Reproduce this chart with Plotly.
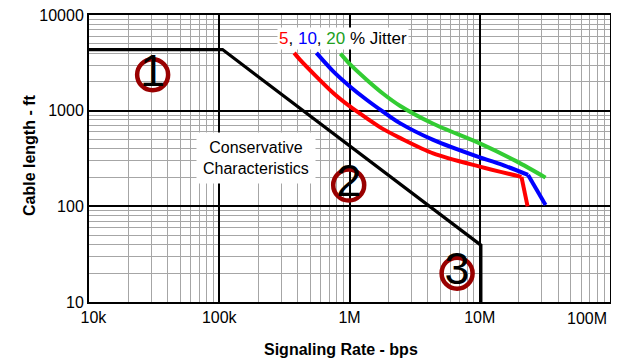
import numpy as np
import plotly.graph_objects as go

# ---- data ----
x_tickvals = [1e4, 1e5, 1e6, 1e7, 1e8]
x_ticktext = ["10k", "100k", "1M", "10M", "100M"]
y_tickvals = [10, 100, 1000, 10000]
y_ticktext = ["10", "100", "1000", "10000"]

cons_x = [1e4, 1.06e5, 1.02e7, 1.02e7]
cons_y = [4350, 4350, 39.3, 10]

red_x = [3.76e5, 4.16e5, 7.5e5, 1.007e6, 1.353e6, 1.814e6, 2.437e6, 4.39e6, 1.0e7, 2.09e7]
red_y = [4018, 3416, 1530, 1107, 836, 641, 520, 358, 260, 203]
red_drop_x = [2.09e7, 2.33e7]
red_drop_y = [203, 100]

blue_x = [5.57e5, 7.5e5, 1.007e6, 1.353e6, 1.814e6, 2.437e6, 4.39e6, 1.0e7, 1.427e7, 2.35e7]
blue_y = [4018, 2576, 1793, 1301, 974, 741, 495, 325, 277.5, 213]
blue_drop_x = [2.35e7, 3.2e7]
blue_drop_y = [213, 103]

green_x = [8.52e5, 1.007e6, 1.353e6, 1.814e6, 2.437e6, 4.39e6, 1.0e7, 1.92e7, 3.2e7]
green_y = [3949, 3064, 2108, 1503, 1126, 729, 455, 295, 199.5]

region_labels = ["1", "2", "3"]
region_x = [3.08e4, 9.86e5, 6.7e6]
region_y = [2378, 167, 20]

FONT = "Liberation Sans, Arial, sans-serif"
RED, BLUE, GREEN = "#ff0000", "#0000ff", "#33cc33"

fig = go.Figure()
fig.add_trace(go.Scatter(x=cons_x, y=cons_y, mode="lines",
                         line=dict(color="black", width=3.2), hoverinfo="skip"))
fig.add_trace(go.Scatter(x=red_x, y=red_y, mode="lines",
                         line=dict(color=RED, width=4, shape="spline", smoothing=0.8)))
fig.add_trace(go.Scatter(x=red_drop_x, y=red_drop_y, mode="lines",
                         line=dict(color=RED, width=4)))
fig.add_trace(go.Scatter(x=blue_x, y=blue_y, mode="lines",
                         line=dict(color=BLUE, width=4, shape="spline", smoothing=0.8)))
fig.add_trace(go.Scatter(x=blue_drop_x, y=blue_drop_y, mode="lines",
                         line=dict(color=BLUE, width=4)))
fig.add_trace(go.Scatter(x=green_x, y=green_y, mode="lines",
                         line=dict(color=GREEN, width=4, shape="spline", smoothing=0.8)))
fig.add_trace(go.Scatter(x=region_x, y=region_y, mode="markers+text",
                         text=region_labels, textposition="middle center",
                         textfont=dict(family=FONT, size=45, color="black"),
                         marker=dict(symbol="circle-open", size=31, color="#990000",
                                     line=dict(width=4.5, color="#990000"))))

minor_x = [m * 10 ** e for e in range(4, 8) for m in range(2, 10)]
minor_y = [m * 10 ** e for e in range(1, 4) for m in range(2, 10)]

# first x label nudged right, last one drawn as an annotation nudged left (as in the reference)
x_ticktext_shown = ["\u00a0\u00a0" + x_ticktext[0]] + x_ticktext[1:-1] + [""]

axis_common = dict(type="log", showline=True, mirror=True, linecolor="black", linewidth=2,
                   showgrid=True, gridcolor="black", gridwidth=1.5, ticks="",
                   zeroline=False, automargin=False, ticklabeloverflow="allow",
                   tickfont=dict(family=FONT, size=16, color="black"))

# the page body adds an 8px offset, so the figure is 8px smaller and margins shifted
fig.update_layout(
    width=611, height=356,
    margin=dict(l=81, r=9, t=7, b=62),
    paper_bgcolor="white", plot_bgcolor="white",
    showlegend=False,
    xaxis=dict(**axis_common, range=[4, 8], tickmode="array",
               tickvals=x_tickvals, ticktext=x_ticktext_shown,
               minor=dict(tickmode="array", tickvals=minor_x, showgrid=True,
                          gridcolor="#a6a6a6", gridwidth=1, ticks="")),
    yaxis=dict(**axis_common, range=[1, 4], tickmode="array",
               tickvals=y_tickvals, ticktext=y_ticktext,
               minor=dict(tickmode="array", tickvals=minor_y, showgrid=True,
                          gridcolor="#a6a6a6", gridwidth=1, ticks="")),
    annotations=[
        dict(x=np.log10(1.91e5), y=np.log10(321), xref="x", yref="y",
             text="Conservative<br>Characteristics", showarrow=False,
             font=dict(family=FONT, size=16, color="black"),
             bgcolor="white", borderpad=6),
        dict(x=np.log10(8.98e5), y=np.log10(5673), xref="x", yref="y",
             text=("<span style='color:#ff0000'>5</span>, "
                   "<span style='color:#0000ff'>10</span>, "
                   "<span style='color:#22a022'>20</span> % Jitter"),
             showarrow=False, font=dict(family=FONT, size=17, color="black"),
             bgcolor="white", borderpad=1),
        dict(x=1.0, y=-0.059, xref="paper", yref="paper",
             text=x_ticktext[-1], showarrow=False,
             xanchor="right", yanchor="middle", xshift=-1,
             font=dict(family=FONT, size=16, color="black")),
        dict(x=0.4837, y=-0.167, xref="paper", yref="paper",
             text="<b>Signaling Rate - bps</b>", showarrow=False,
             xanchor="center", yanchor="middle",
             font=dict(family=FONT, size=16, color="black")),
        dict(x=-0.1152, y=0.512, xref="paper", yref="paper",
             text="<b>Cable length - ft</b>", showarrow=False, textangle=-90,
             xanchor="center", yanchor="middle",
             font=dict(family=FONT, size=16, color="black")),
    ],
)

fig.write_html("out.html")
